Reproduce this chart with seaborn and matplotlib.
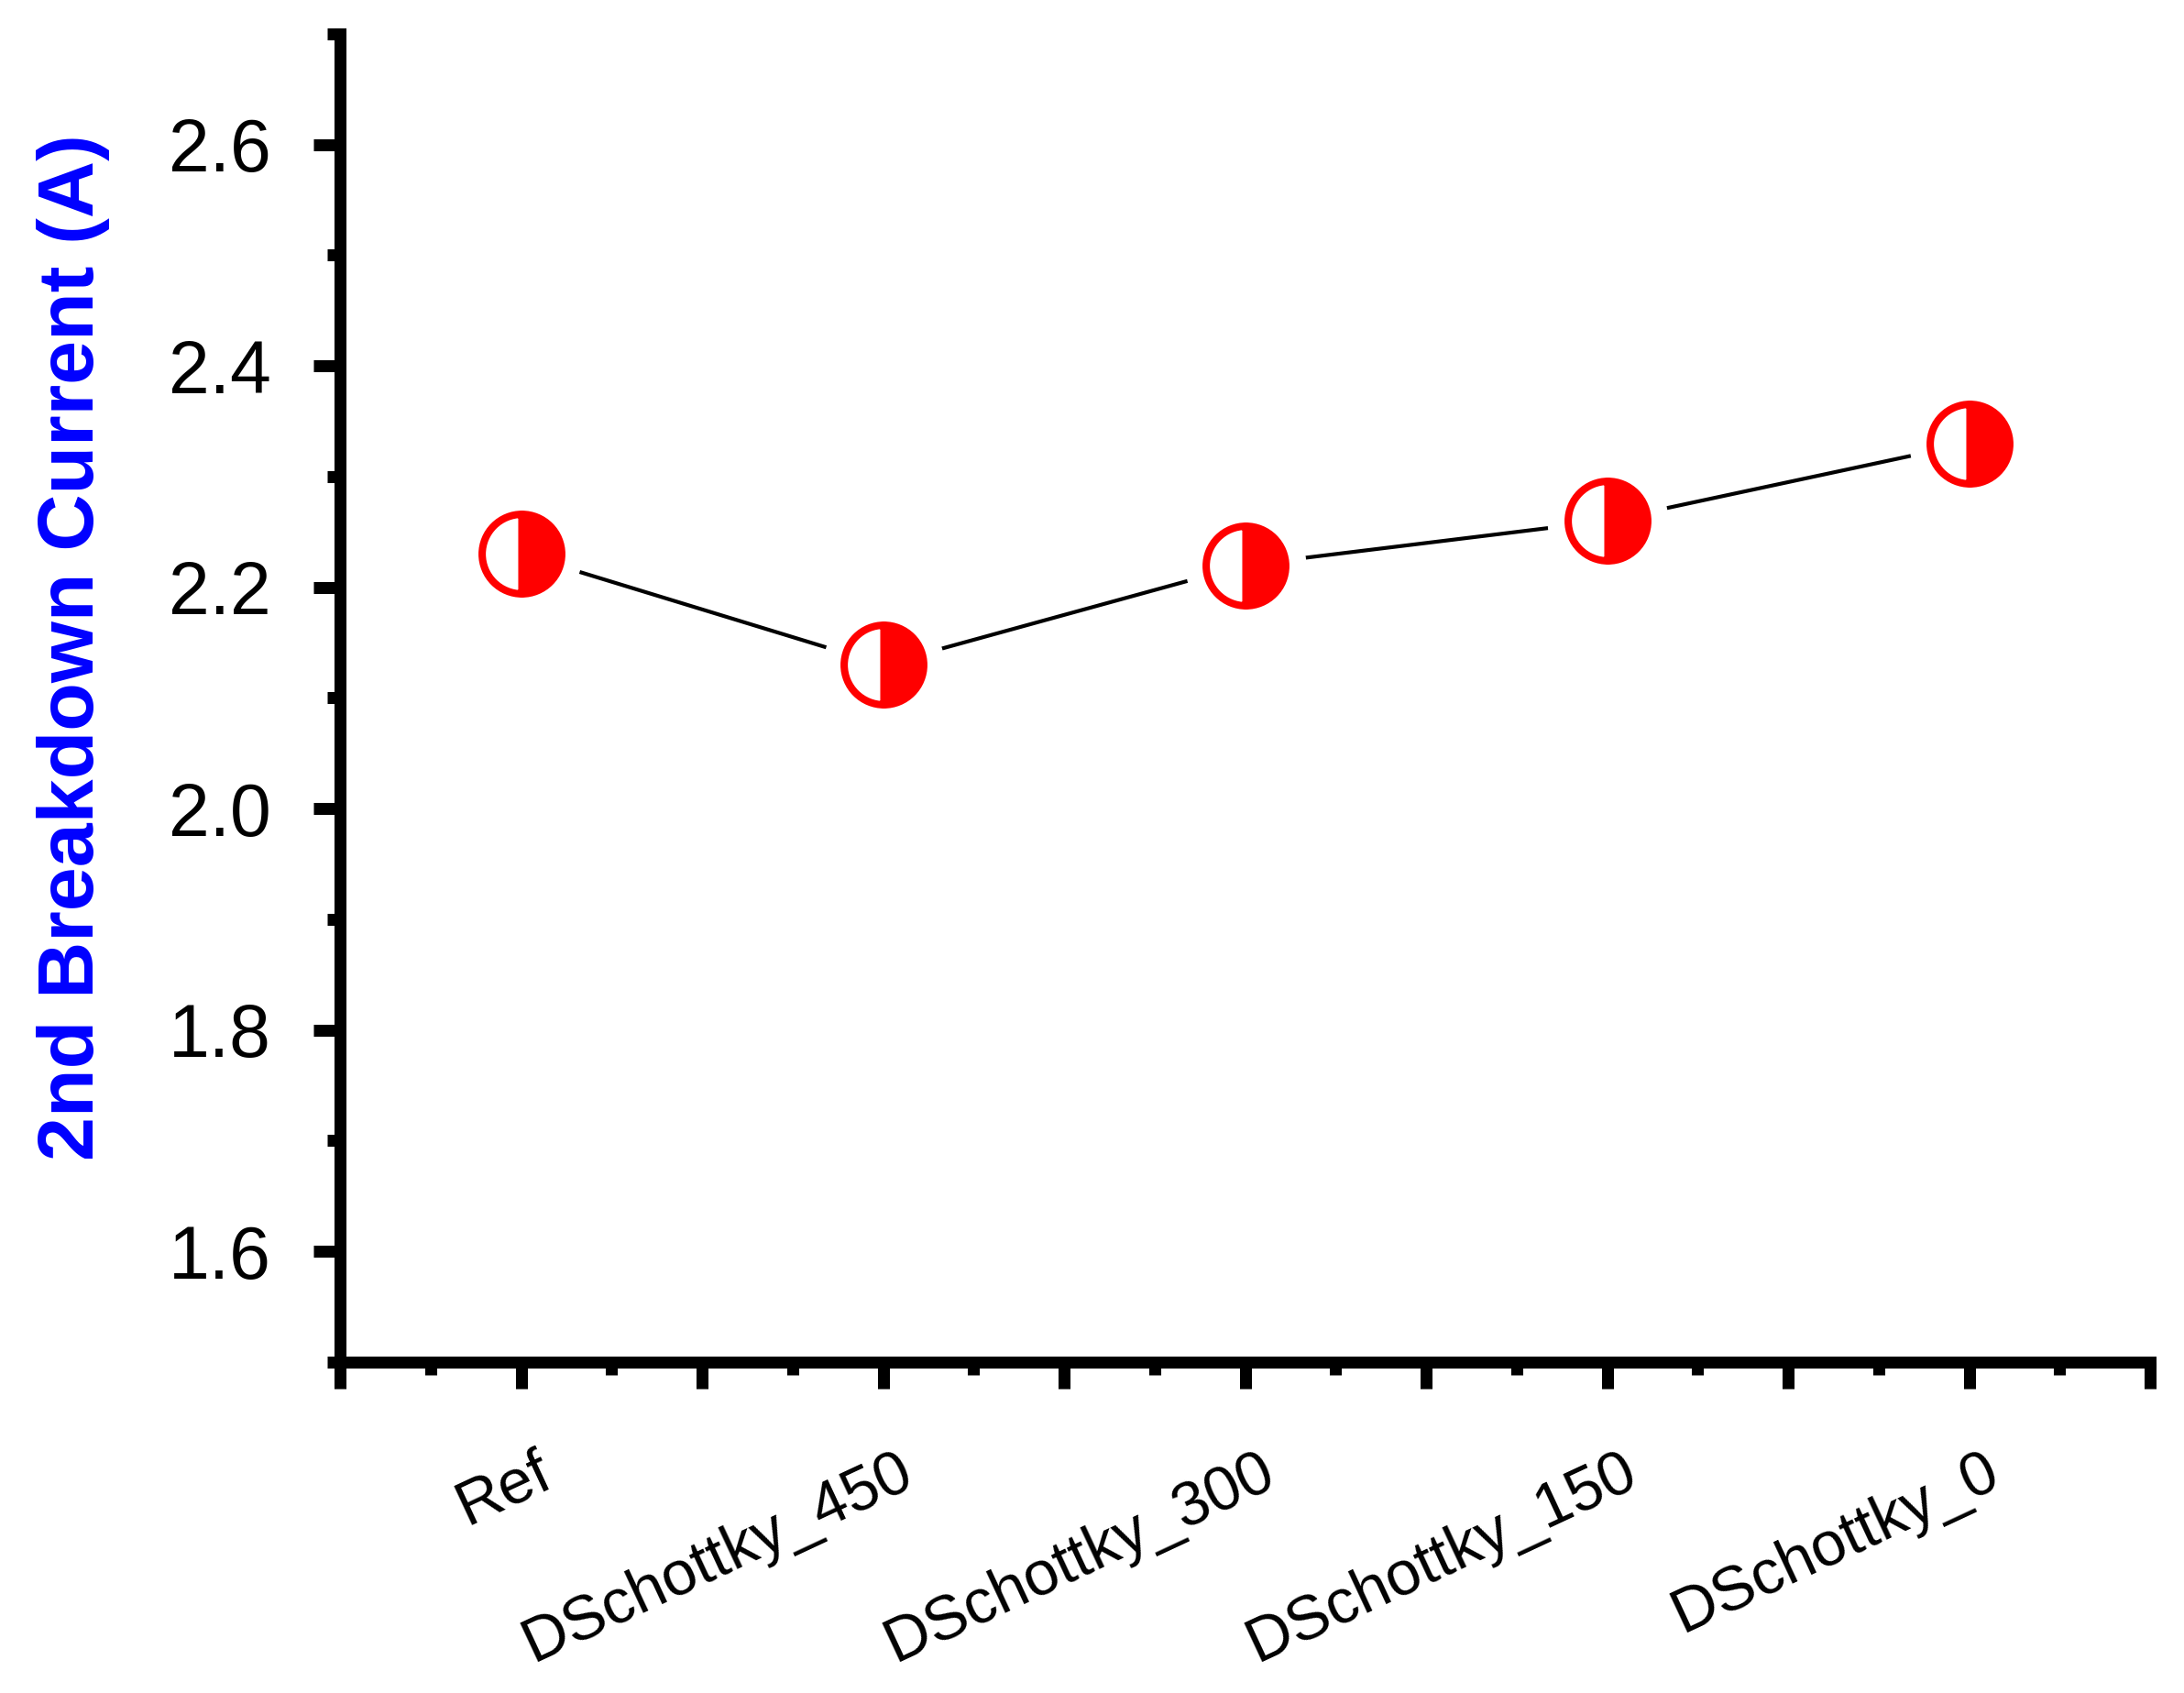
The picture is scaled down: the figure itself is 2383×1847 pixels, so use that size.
import numpy as np
import matplotlib
matplotlib.use('Agg')
import matplotlib.pyplot as plt
import matplotlib.transforms as mtransforms
import seaborn as sns

# data
samples = ['Ref', 'DSchottky_450', 'DSchottky_300', 'DSchottky_150', 'DSchottky_0']
breakdown_current = [2.23, 2.13, 2.22, 2.26, 2.33]
y_ticks = [1.6, 1.8, 2.0, 2.2, 2.4, 2.6]

sns.set_style('ticks')
plt.rcParams['font.family'] = ['Liberation Sans', 'DejaVu Sans']

fig = plt.figure(figsize=(23.83, 18.47), dpi=100)
ax = fig.add_axes([0.1557, 0.1955, 0.8288, 0.7845])

sns.lineplot(x=samples, y=breakdown_current, color='black', linewidth=3, sort=False, ax=ax, zorder=2)
# white disks leave a gap between line and symbols
ax.plot(samples, breakdown_current, linestyle='none', marker='o', markersize=94,
        markerfacecolor='white', markeredgecolor='white', zorder=3)
ax.plot(samples, breakdown_current, linestyle='none', marker='o', markersize=62.5,
        fillstyle='right', markerfacecolor='red', markerfacecoloralt='white',
        markeredgecolor='red', markeredgewidth=5.8, zorder=4)

ax.set_xlim(-0.5, len(samples) - 0.5)
ax.set_ylim(1.5, 2.7)

major_x = np.arange(-0.5, len(samples), 0.5)
labels_x = [samples[int(p)] if float(p).is_integer() else '' for p in major_x]
ax.set_xticks(major_x, labels_x)
ax.set_xticks(np.arange(-0.25, len(samples) - 0.5, 0.5), minor=True)
ax.set_yticks(y_ticks, [f'{v:.1f}' for v in y_ticks])
ax.set_yticks(np.arange(1.5, 2.71, 0.1), minor=True)

for side in ['top', 'right']:
    ax.spines[side].set_visible(False)
for side in ['left', 'bottom']:
    ax.spines[side].set_linewidth(9.4)
    ax.spines[side].set_color('black')
    ax.spines[side].set_capstyle('projecting')

ax.tick_params(which='major', direction='out', length=21, width=9.4, color='black')
ax.tick_params(which='minor', direction='out', length=10, width=9.4, color='black')
ax.tick_params(axis='y', labelsize=58, pad=33, labelcolor='black')
ax.tick_params(axis='x', labelsize=49, pad=42, labelcolor='black')

offset = mtransforms.ScaledTranslation(0.15, 0, fig.dpi_scale_trans)
for lab in ax.get_xticklabels():
    lab.set_rotation(25)
    lab.set_ha('right')
    lab.set_va('top')
    lab.set_rotation_mode('anchor')
    lab.set_transform(lab.get_transform() + offset)

ax.set_xlabel('')
ax.set_ylabel('2nd Breakdown Current (A)', fontsize=62, fontweight='bold', color='blue')
ax.yaxis.set_label_coords(-0.127, 0.538)

fig.savefig('out.png', dpi=100, facecolor='white')
